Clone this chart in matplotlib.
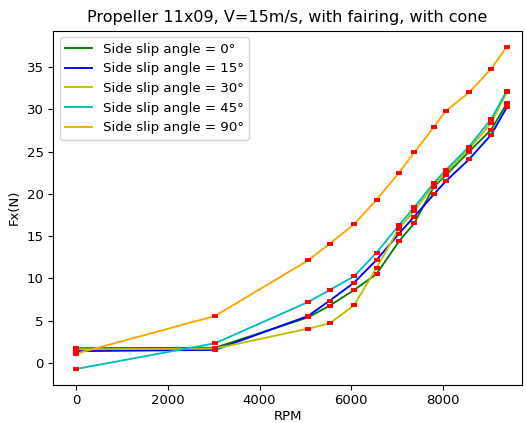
import numpy as np
import matplotlib
matplotlib.use("Agg")
import matplotlib.pyplot as plt

# RPM set points
rpm = [0, 3030, 5060, 5530, 6060, 6550, 7040, 7370, 7800, 8060, 8570, 9050, 9390]

# Fx(N) for each side slip angle
fx_0 = [1.75, 1.8, 5.4, 6.78, 8.63, 10.52, 14.4, 16.5, 20.85, 22.2, 25.0, 27.6, 30.7]
fx_15 = [1.4, 1.55, 5.56, 7.37, 9.5, 12.18, 15.3, 17.3, 19.95, 21.5, 24.1, 27.0, 30.25]
fx_30 = [1.62, 1.7, 4.06, 4.69, 6.82, 11.25, 15.9, 18.0, 21.0, 22.5, 25.3, 28.4, 32.0]
fx_45 = [-0.71, 2.33, 7.21, 8.63, 10.25, 13.04, 16.3, 18.4, 21.3, 22.8, 25.6, 28.85, 32.2]
fx_90 = [1.1, 5.56, 12.14, 14.1, 16.4, 19.3, 22.5, 24.9, 27.9, 29.8, 32.0, 34.8, 37.4]

labels = ["Side slip angle = 0°", "Side slip angle = 15°", "Side slip angle = 30°",
          "Side slip angle = 45°", "Side slip angle = 90°"]
colors = ["green", "blue", "y", "c", "orange"]

fig = plt.figure(figsize=(5.26, 4.23), dpi=100)
ax = fig.add_axes([0.1013, 0.0905, 0.891, 0.837])

series = [fx_0, fx_15, fx_30, fx_45, fx_90]
for ys, c, lbl in zip(series, colors, labels):
	ax.plot(rpm, ys, color=c, lw=1.35, label=lbl)
for ys in series:
	ax.plot(rpm, ys, "_", color="r", ms=5, mew=2.8)

ax.set_xlim(-495, 9720)
ax.set_ylim(-2.57, 39.3)
ax.tick_params(labelsize=9.5)
ax.set_xlabel("RPM", fontsize=9.5, labelpad=2)
ax.set_ylabel("Fx(N)", fontsize=9.5)
ax.set_title("Propeller 11x09, V=15m/s, with fairing, with cone", fontsize=11.5)
ax.legend(loc="upper left", fontsize=9.6)

fig.savefig("out.png", dpi=100)
